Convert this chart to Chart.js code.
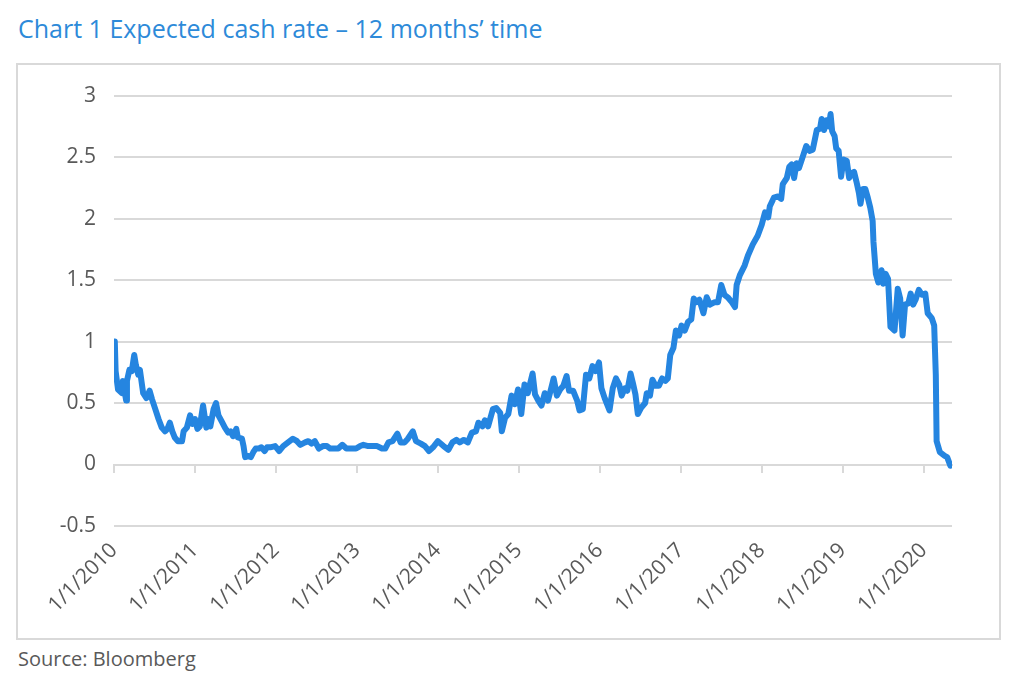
<!DOCTYPE html>
<html>
<head>
<meta charset="utf-8">
<script src="https://cdn.jsdelivr.net/npm/chart.js@4.4.1/dist/chart.umd.min.js"></script>
<style>
  html, body { margin: 0; padding: 0; background: #ffffff; }
  body { width: 1024px; height: 688px; position: relative; overflow: hidden; font-family: "Open Sans", sans-serif; }
  #title { position: absolute; left: 18px; top: 11px; font-size: 25px; color: #2d8ad9; white-space: nowrap; }
  #frame { position: absolute; left: 16px; top: 63px; width: 985px; height: 577px; border: 2px solid #d9d9d9; box-sizing: border-box; }
  #wrap { position: absolute; left: 0; top: 0; width: 981px; height: 573px; }
  #source { position: absolute; left: 18px; top: 645px; font-size: 20px; color: #595959; white-space: nowrap; }
</style>
</head>
<body>
<div id="title">Chart 1 Expected cash rate – 12 months’ time</div>
<div id="frame"><div id="wrap"><canvas id="cashChart"></canvas></div></div>
<div id="source">Source: Bloomberg</div>
<script>
// Dates as decimal years
const dates = [
  2010.01, 2010.02, 2010.05, 2010.10, 2010.11, 2010.15, 2010.16, 2010.19, 2010.22, 2010.25,
  2010.27, 2010.30, 2010.32, 2010.36, 2010.40, 2010.44, 2010.47, 2010.51, 2010.55, 2010.59,
  2010.63, 2010.66, 2010.69, 2010.72, 2010.75, 2010.79, 2010.84, 2010.86, 2010.90, 2010.94,
  2010.97, 2011.00, 2011.03, 2011.06, 2011.10, 2011.14, 2011.16, 2011.19, 2011.23, 2011.26,
  2011.29, 2011.33, 2011.37, 2011.41, 2011.44, 2011.47, 2011.51, 2011.53, 2011.58, 2011.60,
  2011.62, 2011.66, 2011.69, 2011.72, 2011.75, 2011.79, 2011.82, 2011.86, 2011.89, 2011.93,
  2011.99, 2012.04, 2012.09, 2012.15, 2012.21, 2012.26, 2012.30, 2012.36, 2012.40, 2012.44,
  2012.48, 2012.53, 2012.58, 2012.63, 2012.67, 2012.73, 2012.77, 2012.82, 2012.87, 2012.93,
  2012.99, 2013.04, 2013.08, 2013.14, 2013.20, 2013.25, 2013.31, 2013.35, 2013.39, 2013.44,
  2013.50, 2013.54, 2013.59, 2013.63, 2013.69, 2013.73, 2013.79, 2013.84, 2013.89, 2013.94,
  2014.00, 2014.07, 2014.13, 2014.18, 2014.23, 2014.27, 2014.32, 2014.37, 2014.42, 2014.47,
  2014.50, 2014.55, 2014.58, 2014.62, 2014.68, 2014.72, 2014.77, 2014.79, 2014.83, 2014.87,
  2014.91, 2014.95, 2014.99, 2015.03, 2015.07, 2015.11, 2015.17, 2015.20, 2015.24, 2015.28,
  2015.32, 2015.36, 2015.40, 2015.43, 2015.47, 2015.51, 2015.55, 2015.59, 2015.62, 2015.67,
  2015.72, 2015.75, 2015.79, 2015.83, 2015.87, 2015.91, 2015.95, 2015.99, 2016.02, 2016.06,
  2016.12, 2016.16, 2016.20, 2016.24, 2016.27, 2016.31, 2016.34, 2016.38, 2016.41, 2016.44,
  2016.47, 2016.51, 2016.56, 2016.58, 2016.62, 2016.65, 2016.69, 2016.73, 2016.77, 2016.81,
  2016.84, 2016.87, 2016.91, 2016.94, 2016.98, 2017.01, 2017.05, 2017.09, 2017.13, 2017.16,
  2017.19, 2017.23, 2017.28, 2017.32, 2017.36, 2017.42, 2017.46, 2017.50, 2017.54, 2017.58,
  2017.63, 2017.67, 2017.69, 2017.73, 2017.79, 2017.83, 2017.89, 2017.95, 2018.00, 2018.04,
  2018.08, 2018.10, 2018.15, 2018.20, 2018.24, 2018.26, 2018.31, 2018.34, 2018.37, 2018.40,
  2018.43, 2018.46, 2018.50, 2018.55, 2018.59, 2018.63, 2018.68, 2018.72, 2018.74, 2018.77,
  2018.80, 2018.83, 2018.85, 2018.87, 2018.90, 2018.92, 2018.95, 2018.98, 2019.01, 2019.05,
  2019.08, 2019.11, 2019.14, 2019.17, 2019.20, 2019.22, 2019.25, 2019.28, 2019.31, 2019.34,
  2019.37, 2019.38, 2019.41, 2019.44, 2019.48, 2019.50, 2019.53, 2019.56, 2019.59, 2019.64,
  2019.68, 2019.71, 2019.74, 2019.77, 2019.81, 2019.84, 2019.87, 2019.90, 2019.94, 2019.98,
  2020.02, 2020.05, 2020.10, 2020.13, 2020.15, 2020.16, 2020.20, 2020.26, 2020.29, 2020.33
];

// Expected cash rate in 12 months (%)
const rates = [
  1.00, 0.76, 0.61, 0.58, 0.68, 0.52, 0.68, 0.77, 0.76, 0.89,
  0.81, 0.73, 0.77, 0.58, 0.54, 0.60, 0.53, 0.45, 0.37, 0.30,
  0.27, 0.29, 0.34, 0.27, 0.22, 0.19, 0.19, 0.27, 0.30, 0.40,
  0.33, 0.37, 0.29, 0.31, 0.48, 0.30, 0.37, 0.31, 0.45, 0.50,
  0.40, 0.35, 0.30, 0.26, 0.27, 0.23, 0.29, 0.22, 0.21, 0.15,
  0.06, 0.07, 0.06, 0.10, 0.13, 0.13, 0.14, 0.11, 0.14, 0.14,
  0.15, 0.11, 0.15, 0.18, 0.21, 0.19, 0.16, 0.18, 0.19, 0.17,
  0.19, 0.13, 0.15, 0.15, 0.13, 0.13, 0.13, 0.16, 0.13, 0.13,
  0.13, 0.15, 0.16, 0.15, 0.15, 0.15, 0.13, 0.13, 0.18, 0.19,
  0.25, 0.18, 0.18, 0.21, 0.27, 0.19, 0.17, 0.15, 0.11, 0.14,
  0.19, 0.15, 0.12, 0.18, 0.20, 0.18, 0.20, 0.18, 0.26, 0.27,
  0.34, 0.31, 0.36, 0.31, 0.45, 0.46, 0.42, 0.27, 0.38, 0.41,
  0.56, 0.49, 0.61, 0.41, 0.65, 0.58, 0.74, 0.57, 0.52, 0.48,
  0.58, 0.52, 0.62, 0.70, 0.56, 0.61, 0.64, 0.72, 0.60, 0.60,
  0.52, 0.44, 0.45, 0.73, 0.70, 0.80, 0.76, 0.83, 0.62, 0.54,
  0.44, 0.62, 0.70, 0.65, 0.56, 0.62, 0.60, 0.74, 0.66, 0.57,
  0.41, 0.46, 0.50, 0.58, 0.56, 0.69, 0.64, 0.64, 0.70, 0.68,
  0.70, 0.89, 0.95, 1.09, 1.05, 1.13, 1.09, 1.16, 1.18, 1.35,
  1.32, 1.34, 1.23, 1.36, 1.30, 1.32, 1.32, 1.46, 1.38, 1.36,
  1.32, 1.28, 1.46, 1.54, 1.62, 1.70, 1.79, 1.86, 1.95, 2.05,
  2.01, 2.10, 2.17, 2.18, 2.16, 2.28, 2.33, 2.42, 2.44, 2.33,
  2.45, 2.41, 2.49, 2.59, 2.55, 2.56, 2.72, 2.73, 2.81, 2.72,
  2.80, 2.75, 2.85, 2.71, 2.67, 2.57, 2.55, 2.34, 2.48, 2.47,
  2.33, 2.37, 2.38, 2.30, 2.21, 2.12, 2.24, 2.24, 2.17, 2.09,
  1.98, 1.81, 1.55, 1.48, 1.58, 1.47, 1.55, 1.51, 1.12, 1.09,
  1.43, 1.35, 1.05, 1.30, 1.31, 1.39, 1.30, 1.34, 1.42, 1.38,
  1.39, 1.23, 1.19, 1.13, 0.73, 0.19, 0.10, 0.07, 0.06, -0.01
];

// Axis settings
const xMin = 2010;
const xMax = 2020.35;
const yMin = -0.5;
const yMax = 3;
const yStep = 0.5;

const textColor = '#595959';
const gridColor = '#d9d9d9';
const lineColor = '#2585e0';

const points = dates.map((d, i) => ({ x: d, y: rates[i] }));

new Chart(document.getElementById('cashChart'), {
  type: 'line',
  data: {
    datasets: [{
      label: 'Expected cash rate',
      data: points,
      borderColor: lineColor,
      borderWidth: 6,
      pointRadius: 0,
      tension: 0,
      borderJoinStyle: 'round',
      borderCapStyle: 'round',
      fill: false
    }]
  },
  options: {
    responsive: true,
    maintainAspectRatio: false,
    animation: false,
    layout: { padding: { top: 27, right: 47, bottom: 0, left: 0 } },
    plugins: {
      legend: { display: false },
      tooltip: { enabled: false }
    },
    scales: {
      x: {
        type: 'linear',
        position: 'bottom',
        min: xMin,
        max: xMax,
        grid: { display: false },
        border: { display: false },
        ticks: {
          stepSize: 1,
          includeBounds: false,
          autoSkip: false,
          maxRotation: 45,
          minRotation: 45,
          padding: 4,
          color: textColor,
          font: { family: 'Open Sans', size: 21 },
          callback: v => '1/1/' + v
        },
        afterFit: scale => {
          scale.height = 112;
          scale.paddingLeft = 0;
          scale.paddingRight = 0;
        }
      },
      xZero: {
        type: 'linear',
        position: { y: 0 },
        min: xMin,
        max: xMax,
        grid: { drawOnChartArea: false, drawTicks: true, tickLength: 7, color: gridColor, lineWidth: 2 },
        border: { display: true, color: gridColor, width: 2 },
        ticks: { stepSize: 1, includeBounds: false, display: false }
      },
      y: {
        min: yMin,
        max: yMax,
        grid: { color: gridColor, lineWidth: 2, drawTicks: false },
        border: { display: false },
        ticks: {
          stepSize: yStep,
          padding: 18,
          color: textColor,
          font: { family: 'Open Sans', size: 21 },
          callback: v => String(Number(v.toFixed(2)))
        },
        afterFit: scale => { scale.width = 96; }
      }
    }
  }
});
</script>
</body>
</html>
